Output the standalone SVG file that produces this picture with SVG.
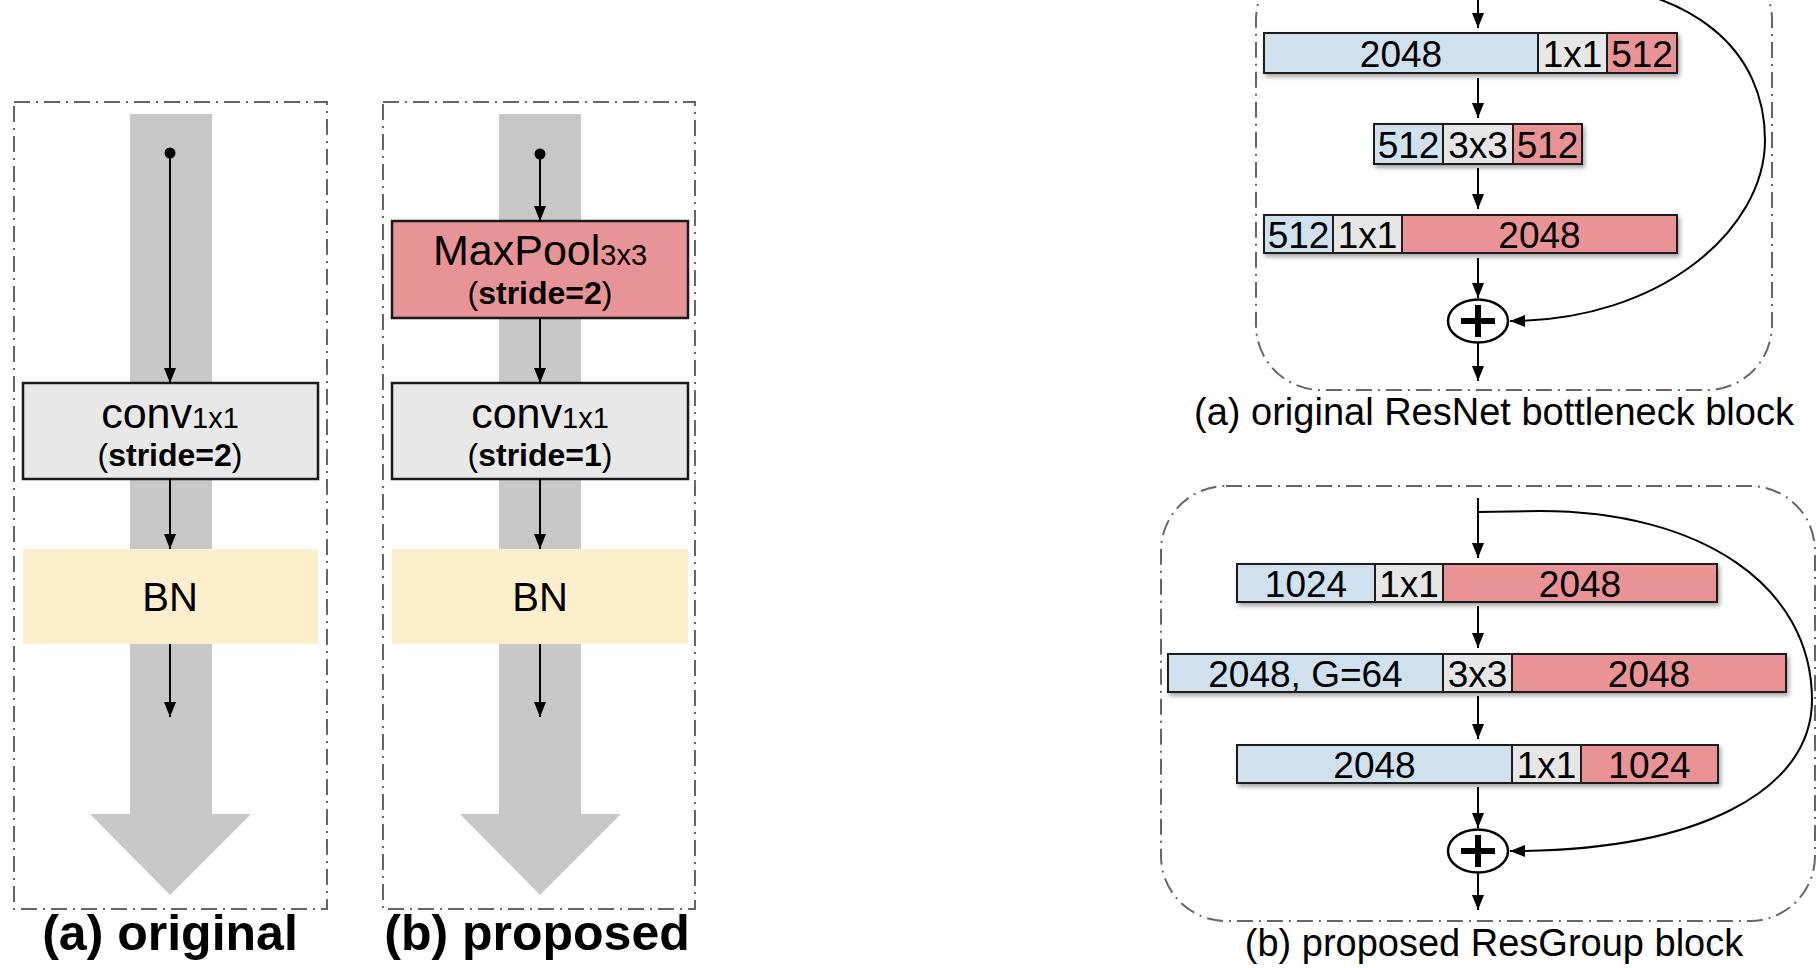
<svg xmlns="http://www.w3.org/2000/svg" width="1816" height="968" viewBox="0 0 1816 968">
<style>
.frame{fill:none;stroke:#666;stroke-width:2;stroke-dasharray:16 6 2 6}
.band{fill:#c8c8c8}
.box{stroke:#1a1a1a;stroke-width:2.5}
.conv{fill:#e8e8e8}
.pool{fill:#e89496}
.bn{fill:#fdefcc}
.blue{fill:#cfe0ef}
.gray{fill:#e6e6e6}
.red{fill:#e99394}
.cell{stroke:#1a1a1a;stroke-width:2}
.t{font-family:"Liberation Sans",Arial,sans-serif;fill:#000;text-anchor:middle}
.big{font-size:43px}
.sub{font-size:29px}
.bold{font-size:32px;font-weight:bold}
.par{font-weight:normal}
.num{font-size:37px}
.cap{font-size:38px}
.lab{font-size:50px;font-weight:bold}
.ln{stroke:#000;stroke-width:2;fill:none}
</style>
<defs>
<marker id="ah" viewBox="0 0 15 12" refX="15" refY="6" markerWidth="15" markerHeight="12" orient="auto" markerUnits="userSpaceOnUse">
<path d="M0,0 L15,6 L0,12 z" fill="#000"/>
</marker>
<filter id="sh" x="-5%" y="-20%" width="115%" height="160%">
<feDropShadow dx="2" dy="3" stdDeviation="2" flood-color="#000" flood-opacity="0.35"/>
</filter>
</defs>

<!-- Left panel (a) -->
<g id="panel-a-left">
<rect class="frame" x="14" y="102" width="313" height="807"/>
<path class="band" d="M130,114 H212 V814 H251 L170,895 L90,814 H130 Z"/>
</g>
<g id="a-conv">
<rect class="box conv" x="23" y="383" width="295" height="96"/>
<text class="t" x="170" y="428"><tspan class="big">conv</tspan><tspan class="sub">1x1</tspan></text>
<text class="t bold" x="170" y="466"><tspan class="par">(</tspan>stride=2<tspan class="par">)</tspan></text>
</g>
<g id="a-bn">
<rect class="bn" x="23" y="549" width="295" height="95"/>
<text class="t" x="170" y="611" font-size="40">BN</text>
</g>
<text id="label-a" class="t lab" x="170" y="950">(a) original</text>

<!-- Left panel (b) -->
<g id="panel-b-left">
<rect class="frame" x="383" y="102" width="312" height="807"/>
<path class="band" d="M499,114 H581 V814 H621 L540,895 L460,814 H499 Z"/>
</g>
<g id="b-pool">
<rect class="box pool" x="392" y="221" width="296" height="97"/>
<text class="t" x="540" y="265"><tspan class="big">MaxPool</tspan><tspan class="sub">3x3</tspan></text>
<text class="t bold" x="540" y="304"><tspan class="par">(</tspan>stride=2<tspan class="par">)</tspan></text>
</g>
<g id="b-conv">
<rect class="box conv" x="392" y="383" width="296" height="96"/>
<text class="t" x="540" y="428"><tspan class="big">conv</tspan><tspan class="sub">1x1</tspan></text>
<text class="t bold" x="540" y="466"><tspan class="par">(</tspan>stride=1<tspan class="par">)</tspan></text>
</g>
<g id="b-bn">
<rect class="bn" x="392" y="549" width="296" height="95"/>
<text class="t" x="540" y="611" font-size="40">BN</text>
</g>
<text id="label-b" class="t lab" x="537" y="950">(b) proposed</text>

<!-- Right block (a) -->
<g id="ra-frame">
<rect class="frame" x="1256" y="-45" width="516" height="435" rx="65" ry="65"/>
</g>
<g id="ra-row1" filter="url(#sh)">
<rect class="cell blue" x="1264" y="33" width="274" height="40"/>
<rect class="cell gray" x="1538" y="33" width="69" height="40"/>
<rect class="cell red" x="1607" y="33" width="70" height="40"/>
</g>
<g id="ra-row1-text">
<text class="t num" x="1401" y="67">2048</text>
<text class="t num" x="1572.5" y="67">1x1</text>
<text class="t num" x="1642" y="67">512</text>
</g>
<g id="ra-row2" filter="url(#sh)">
<rect class="cell blue" x="1374" y="124" width="69" height="40"/>
<rect class="cell gray" x="1443" y="124" width="70" height="40"/>
<rect class="cell red" x="1513" y="124" width="69" height="40"/>
</g>
<g id="ra-row2-text">
<text class="t num" x="1408.5" y="158">512</text>
<text class="t num" x="1478" y="158">3x3</text>
<text class="t num" x="1547.5" y="158">512</text>
</g>
<g id="ra-row3" filter="url(#sh)">
<rect class="cell blue" x="1264" y="215" width="69" height="38"/>
<rect class="cell gray" x="1333" y="215" width="69" height="38"/>
<rect class="cell red" x="1402" y="215" width="275" height="38"/>
</g>
<g id="ra-row3-text">
<text class="t num" x="1298.5" y="248">512</text>
<text class="t num" x="1367.5" y="248">1x1</text>
<text class="t num" x="1539.5" y="248">2048</text>
</g>
<g id="ra-sum">
<ellipse cx="1478" cy="321" rx="30" ry="21.5" fill="#fff" stroke="#000" stroke-width="2.5"/>
<path d="M1461,321 H1495 M1478,305 V337" stroke="#000" stroke-width="6"/>
</g>
<text id="cap-ra" class="t cap" x="1494" y="425">(a) original ResNet bottleneck block</text>

<!-- Right block (b) -->
<g id="rb-frame">
<rect class="frame" x="1161" y="486" width="654" height="435" rx="65" ry="65"/>
</g>
<g id="rb-row1" filter="url(#sh)">
<rect class="cell blue" x="1237" y="564" width="138" height="38"/>
<rect class="cell gray" x="1375" y="564" width="68" height="38"/>
<rect class="cell red" x="1443" y="564" width="274" height="38"/>
</g>
<g id="rb-row1-text">
<text class="t num" x="1306" y="597">1024</text>
<text class="t num" x="1409" y="597">1x1</text>
<text class="t num" x="1580" y="597">2048</text>
</g>
<g id="rb-row2" filter="url(#sh)">
<rect class="cell blue" x="1168" y="654" width="275" height="38"/>
<rect class="cell gray" x="1443" y="654" width="69" height="38"/>
<rect class="cell red" x="1512" y="654" width="274" height="38"/>
</g>
<g id="rb-row2-text">
<text class="t num" x="1305.5" y="687">2048, G=64</text>
<text class="t num" x="1477.5" y="687">3x3</text>
<text class="t num" x="1649" y="687">2048</text>
</g>
<g id="rb-row3" filter="url(#sh)">
<rect class="cell blue" x="1237" y="745" width="275" height="38"/>
<rect class="cell gray" x="1512" y="745" width="69" height="38"/>
<rect class="cell red" x="1581" y="745" width="137" height="38"/>
</g>
<g id="rb-row3-text">
<text class="t num" x="1374.5" y="778">2048</text>
<text class="t num" x="1546.5" y="778">1x1</text>
<text class="t num" x="1649.5" y="778">1024</text>
</g>
<g id="rb-sum">
<ellipse cx="1478" cy="851" rx="30" ry="21.5" fill="#fff" stroke="#000" stroke-width="2.5"/>
<path d="M1461,851 H1495 M1478,835 V867" stroke="#000" stroke-width="6"/>
</g>
<text id="cap-rb" class="t cap" x="1494" y="956">(b) proposed ResGroup block</text>

<!-- Connectors -->
<g id="connectors">
<circle cx="170" cy="153" r="5.5" fill="#000"/>
<line class="ln" x1="170" y1="153" x2="170" y2="383" marker-end="url(#ah)"/>
<line class="ln" x1="170" y1="479" x2="170" y2="549" marker-end="url(#ah)"/>
<line class="ln" x1="170" y1="644" x2="170" y2="717" marker-end="url(#ah)"/>

<circle cx="540" cy="154" r="5.5" fill="#000"/>
<line class="ln" x1="540" y1="154" x2="540" y2="221" marker-end="url(#ah)"/>
<line class="ln" x1="540" y1="318" x2="540" y2="383" marker-end="url(#ah)"/>
<line class="ln" x1="540" y1="479" x2="540" y2="549" marker-end="url(#ah)"/>
<line class="ln" x1="540" y1="644" x2="540" y2="717" marker-end="url(#ah)"/>

<line class="ln" x1="1478" y1="-5" x2="1478" y2="28" marker-end="url(#ah)"/>
<line class="ln" x1="1478" y1="78" x2="1478" y2="118" marker-end="url(#ah)"/>
<line class="ln" x1="1478" y1="168" x2="1478" y2="209" marker-end="url(#ah)"/>
<line class="ln" x1="1478" y1="258" x2="1478" y2="298" marker-end="url(#ah)"/>
<line class="ln" x1="1478" y1="343" x2="1478" y2="381" marker-end="url(#ah)"/>
<path class="ln" d="M1478,-19 L1540,-19 C1700,-19 1765,55 1765,140 C1765,230 1660,321 1510,321" marker-end="url(#ah)"/>

<line class="ln" x1="1478" y1="498" x2="1478" y2="558" marker-end="url(#ah)"/>
<line class="ln" x1="1478" y1="606" x2="1478" y2="648" marker-end="url(#ah)"/>
<line class="ln" x1="1478" y1="696" x2="1478" y2="739" marker-end="url(#ah)"/>
<line class="ln" x1="1478" y1="787" x2="1478" y2="828" marker-end="url(#ah)"/>
<line class="ln" x1="1478" y1="873" x2="1478" y2="910" marker-end="url(#ah)"/>
<path class="ln" d="M1478,512 L1540,511 C1700,511 1812,585 1812,700 C1812,790 1700,851 1510,851" marker-end="url(#ah)"/>
</g>
</svg>
